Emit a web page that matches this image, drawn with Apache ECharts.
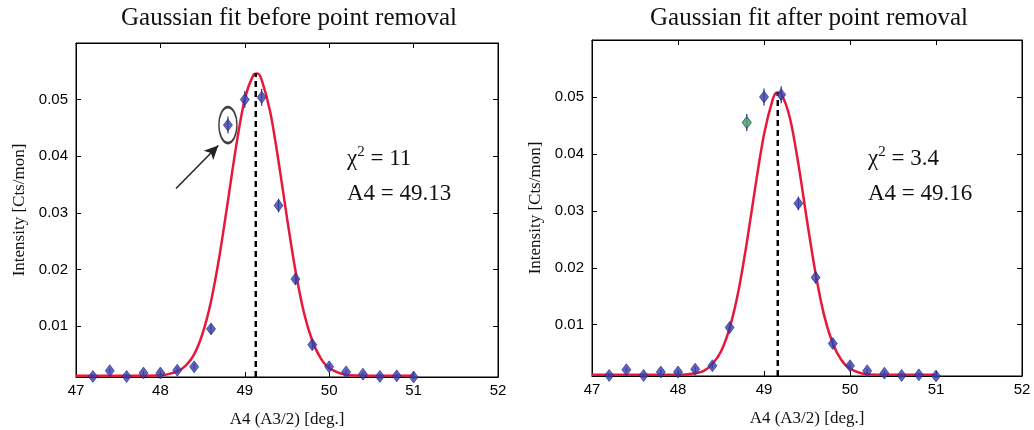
<!DOCTYPE html>
<html>
<head>
<meta charset="utf-8">
<script src="https://cdn.jsdelivr.net/npm/echarts@6/dist/echarts.min.js"></script>
<style>
html,body{margin:0;padding:0;background:#fff;}
#chart{width:1034px;height:430px;}
</style>
</head>
<body>
<div id="chart"></div>
<script>
// ---- data ----
const titles = ['Gaussian fit before point removal', 'Gaussian fit after point removal'];
const xTitle = 'A4 (A3/2) [deg.]';
const yTitle = 'Intensity [Cts/mon]';
const yTickValues = [0.01, 0.02, 0.03, 0.04, 0.05];

const angles = [47.2, 47.4, 47.6, 47.8, 48.0, 48.2, 48.4, 48.6, 48.8, 49.0,
                49.2, 49.4, 49.6, 49.8, 50.0, 50.2, 50.4, 50.6, 50.8, 51.0];
const intensity = [0.0011, 0.0021, 0.0011, 0.0017, 0.0017, 0.0022, 0.0028, 0.0095, 0.0455, 0.0500,
                   0.0504, 0.0313, 0.0183, 0.0067, 0.0028, 0.0019, 0.0015, 0.0011, 0.0012, 0.0010];
const errors = [0.0004, 0.0004, 0.0004, 0.0004, 0.0004, 0.0005, 0.0005, 0.0008, 0.0015, 0.0015,
                0.0015, 0.0012, 0.0010, 0.0007, 0.0005, 0.0004, 0.0004, 0.0004, 0.0004, 0.0004];
const removedIndex = 8; // the 48.8 point

const fitX = [47.0, 47.5, 48.0, 48.2, 48.3, 48.4, 48.5, 48.6, 48.7, 48.8, 48.9, 49.0, 49.1, 49.15,
              49.2, 49.3, 49.4, 49.5, 49.6, 49.7, 49.8, 49.9, 50.0, 50.2, 50.5, 51.0];
const fitBefore = [0.0012, 0.0012, 0.0013, 0.0020, 0.0030, 0.0050, 0.0087, 0.0144, 0.0224, 0.0321, 0.0420, 0.0501, 0.0543, 0.0546,
                   0.0535, 0.0479, 0.0391, 0.0291, 0.0198, 0.0124, 0.0074, 0.0043, 0.0026, 0.0014, 0.0012, 0.0012];
const fitAfter = [0.0012, 0.0012, 0.0012, 0.0015, 0.0019, 0.0031, 0.0053, 0.0094, 0.0157, 0.0244, 0.0343, 0.0434, 0.0495, 0.0508,
                  0.0506, 0.0464, 0.0382, 0.0283, 0.0190, 0.0116, 0.0067, 0.0038, 0.0023, 0.0013, 0.0012, 0.0012];

const centers = [49.13, 49.16];
const peaks = [0.0546, 0.0508];
const chi2 = ['11', '3.4'];
const a4Text = ['49.13', '49.16'];
const arrowStart = [48.185, 0.0343];
const arrowEnd = [48.686, 0.0419];

// ---- build chart ----
const chart = echarts.init(document.getElementById('chart'));
const serif = '"Liberation Serif", "DejaVu Serif", serif';
const sans = '"Liberation Sans", Arial, sans-serif';

const grids = [
  {left: 76, right: 536, top: 43, bottom: 53},
  {left: 592, right: 12, top: 40, bottom: 54}
];

const xAxes = [], yAxes = [], series = [];
grids.forEach((g, i) => {
  g.show = true; g.borderColor = '#000'; g.borderWidth = 1; g.backgroundColor = '#fff';
  g.containLabel = false; g.outerBoundsMode = 'none';
  xAxes.push({
    type: 'value', gridIndex: i, min: 47, max: 52, interval: 1, position: 'bottom',
    name: xTitle, nameLocation: 'middle', nameGap: 34,
    nameTextStyle: {fontFamily: serif, fontSize: 17, color: '#111'},
    axisLine: {show: true, onZero: false, lineStyle: {color: '#000'}},
    axisTick: {inside: true, length: 5, lineStyle: {color: '#000'}},
    axisLabel: {fontFamily: sans, fontSize: 15, color: '#000', margin: 6},
    splitLine: {show: false}
  });
  xAxes.push({
    type: 'value', gridIndex: i, min: 47, max: 52, interval: 1, position: 'top',
    axisLine: {show: true, onZero: false, lineStyle: {color: '#000'}},
    axisTick: {inside: true, length: 5, lineStyle: {color: '#000'}},
    axisLabel: {show: false}, splitLine: {show: false}
  });
  yAxes.push({
    type: 'value', gridIndex: i, min: 0.001, max: 0.06, position: 'left',
    name: yTitle, nameLocation: 'middle', nameGap: 48,
    nameTextStyle: {fontFamily: serif, fontSize: 17, color: '#111'},
    axisLine: {show: true, onZero: false, lineStyle: {color: '#000'}},
    axisTick: {inside: true, length: 5, customValues: yTickValues, lineStyle: {color: '#000'}},
    axisLabel: {fontFamily: sans, fontSize: 15, color: '#000', margin: 8, customValues: yTickValues,
                formatter: v => v.toFixed(2)},
    splitLine: {show: false}
  });
  yAxes.push({
    type: 'value', gridIndex: i, min: 0.001, max: 0.06, position: 'right',
    axisLine: {show: true, onZero: false, lineStyle: {color: '#000'}},
    axisTick: {inside: true, length: 5, customValues: yTickValues, lineStyle: {color: '#000'}},
    axisLabel: {show: false}, splitLine: {show: false}
  });

  const xi = i * 2, yi = i * 2;
  const fit = i === 0 ? fitBefore : fitAfter;
  // fitted curve
  series.push({
    type: 'line', xAxisIndex: xi, yAxisIndex: yi, smooth: 0.3, showSymbol: false, symbol: 'none',
    data: fitX.map((x, k) => [x, fit[k]]),
    lineStyle: {color: '#e8173c', width: 2.5}, z: 3, silent: true
  });
  // dashed centre line
  series.push({
    type: 'line', xAxisIndex: xi, yAxisIndex: yi, symbol: 'none',
    data: [[centers[i], 0.001], [centers[i], peaks[i]]],
    lineStyle: {color: '#000', width: 2.5, type: [6, 4]}, z: 4, silent: true
  });
  // error bars
  series.push({
    type: 'custom', xAxisIndex: xi, yAxisIndex: yi, z: 5, silent: true, clip: false,
    data: angles.map((x, k) => [x, intensity[k] - errors[k], intensity[k] + errors[k]]),
    renderItem: (params, api) => {
      const p1 = api.coord([api.value(0), api.value(1)]);
      const p2 = api.coord([api.value(0), api.value(2)]);
      return {type: 'line', shape: {x1: p1[0], y1: p1[1], x2: p2[0], y2: p2[1]},
              style: {stroke: '#2c2f8a', lineWidth: 1.2}};
    }
  });
  // data points
  series.push({
    type: 'scatter', xAxisIndex: xi, yAxisIndex: yi, symbol: 'diamond', symbolSize: [9, 12], z: 6,
    data: angles.map((x, k) => {
      const d = {value: [x, intensity[k]]};
      if (i === 1 && k === removedIndex) {
        d.itemStyle = {color: '#4aa35a', borderColor: '#2d4f86', borderWidth: 1};
      }
      return d;
    }),
    itemStyle: {color: '#3a3fae', borderColor: '#262a80', borderWidth: 0.8}
  });
});

// annotation on left panel: ellipse around removed point + arrow
series.push({
  type: 'scatter', xAxisIndex: 0, yAxisIndex: 0, symbol: 'circle', symbolSize: [18, 36], z: 7, silent: true,
  data: [[angles[removedIndex], intensity[removedIndex]]],
  itemStyle: {color: 'rgba(0,0,0,0)', borderColor: '#111', borderWidth: 2}
});
series.push({
  type: 'line', xAxisIndex: 0, yAxisIndex: 0, data: [], z: 7, silent: true,
  markLine: {
    silent: true, animation: false,
    symbol: ['none', 'arrow'], symbolSize: [10, 14],
    lineStyle: {color: '#222', width: 1.5, type: 'solid'},
    label: {show: false},
    data: [[{coord: arrowStart}, {coord: arrowEnd}]]
  }
});

const graphic = [];
const titleCenters = [289, 809];
const textLeft = [347, 868];
titles.forEach((t, i) => {
  graphic.push({type: 'text', x: titleCenters[i], y: 18,
    style: {text: t, align: 'center', verticalAlign: 'middle', font: '25px ' + serif, fill: '#111'}});
  graphic.push({type: 'text', x: textLeft[i], y: 145,
    style: {
      rich: {a: {font: '23px ' + serif, fill: '#111'}, s: {font: '15px ' + serif, fill: '#111', verticalAlign: 'top', padding: [0, 0, 12, 0]}},
      text: '{a|χ}{s|2}{a| = ' + chi2[i] + '}',
      fill: '#111'
    }});
  graphic.push({type: 'text', x: textLeft[i], y: 182,
    style: {text: 'A4 = ' + a4Text[i], font: '23px ' + serif, fill: '#111'}});
});

chart.setOption({
  animation: false,
  backgroundColor: '#fff',
  grid: grids,
  xAxis: xAxes,
  yAxis: yAxes,
  series: series,
  graphic: graphic
});
</script>
</body>
</html>
